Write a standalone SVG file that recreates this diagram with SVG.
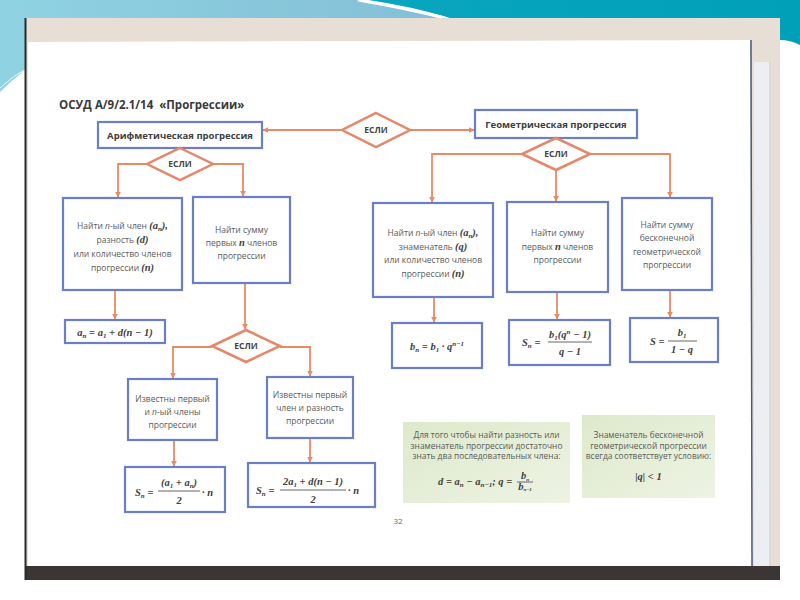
<svg xmlns="http://www.w3.org/2000/svg" width="800" height="600" viewBox="0 0 800 600">
<defs>
<linearGradient id="bgL" x1="0" y1="0" x2="1" y2="0">
<stop offset="0" stop-color="#8fd3e3"/>
<stop offset="1" stop-color="#84bfd6"/>
</linearGradient>
<linearGradient id="bgR" x1="0" y1="0" x2="1" y2="0">
<stop offset="0" stop-color="#0aa6bf"/>
<stop offset="1" stop-color="#00a0b8"/>
</linearGradient>
<linearGradient id="green" x1="0" y1="0" x2="1" y2="1">
<stop offset="0" stop-color="#dde9cb"/>
<stop offset="1" stop-color="#eef3e4"/>
</linearGradient>
<marker id="ah" viewBox="0 0 10 10" refX="9" refY="5" markerWidth="6" markerHeight="6" markerUnits="userSpaceOnUse" orient="auto">
<path d="M0,0 L10,5 L0,10 Z" fill="#ea8a62"/>
</marker>
<style>
.box{fill:#fff;stroke:#6c7ec4;stroke-width:2.2}
.gbox{fill:url(#green);stroke:none}
.dia{fill:#fff;stroke:#e5876a;stroke-width:2.5}
.con{stroke:#ea8a62;stroke-width:1.8;fill:none;marker-end:url(#ah)}
.t{font-family:"Open Sans","Noto Sans",sans-serif;font-size:8.5px;fill:#5a5a5a;text-anchor:middle}
.g{font-family:"Open Sans","Noto Sans",sans-serif;font-size:8.4px;fill:#5a5a5a;text-anchor:middle}
.h{font-family:"Open Sans","Noto Sans",sans-serif;font-size:9.5px;font-weight:bold;fill:#404040;text-anchor:middle}
.e{font-family:"Open Sans","Noto Sans",sans-serif;font-size:8.5px;font-weight:bold;fill:#444;text-anchor:middle}
.m{font-family:"Liberation Serif",serif;font-style:italic;font-weight:bold;font-size:10.5px;fill:#404040}
.mc{text-anchor:middle}
.sb{font-size:7px}
.bar{stroke:#404040;stroke-width:0.8}
</style>
</defs>

<!-- slide background -->
<rect x="0" y="0" width="800" height="600" fill="#ffffff"/>
<path d="M0,0 H360 Q400,8 440,18 H25 V70 Q12,80 0,92 Z" fill="url(#bgL)"/>
<path d="M368,0 H800 V45 Q790,40 780,40 V18 H450 Q410,6 368,0 Z" fill="url(#bgR)"/>
<path d="M358,0 Q405,8 445,18" fill="none" stroke="#ffffff" stroke-width="3"/>
<path d="M0,88 Q12,76 28,68" fill="none" stroke="#e8f8fb" stroke-width="1"/>

<!-- photo frame and page -->
<rect x="25" y="18" width="755" height="562" fill="#e7dfd5"/>
<polygon points="28,42 750,40 752,567 28,568" fill="#ffffff"/>
<rect x="754" y="62" width="16" height="505" fill="#eceef2"/>
<line x1="751" y1="40" x2="752" y2="567" stroke="#4c5a78" stroke-width="1.5"/>
<line x1="770" y1="62" x2="770" y2="567" stroke="#c9ccd4" stroke-width="1"/>
<rect x="25" y="566" width="755" height="14" fill="#3b3633"/>
<line x1="25.5" y1="18" x2="25.5" y2="580" stroke="#2a2a2a" stroke-width="2"/>

<text x="59" y="109" font-family="'Open Sans','Noto Sans',sans-serif" font-size="11.5" font-weight="bold" fill="#3a3a3a">ОСУД А/9/2.1/14 <tspan dx="3">«Прогрессии»</tspan></text>

<!-- connectors -->
<g id="connectors">
<path class="con" d="M342,130 H263"/>
<path class="con" d="M410,130 H474"/>
<path class="con" d="M147,164 H118 V197"/>
<path class="con" d="M213,164 H243 V196"/>
<path class="con" d="M522,154 H432 V202"/>
<path class="con" d="M556,170 V201"/>
<path class="con" d="M590,154 H670 V197"/>
<path class="con" d="M115,290 V319"/>
<path class="con" d="M245,283 V329"/>
<path class="con" d="M212,347 H173 V378"/>
<path class="con" d="M280,347 H310 V376"/>
<path class="con" d="M174,440 V466"/>
<path class="con" d="M310,438 V462"/>
<path class="con" d="M434,297 V322"/>
<path class="con" d="M557,292 V319"/>
<path class="con" d="M670,290 V317"/>
</g>

<!-- top decision -->
<g id="if-top">
<polygon class="dia" points="376,113 410,130 376,147 342,130"/>
<text class="e" x="376" y="133">ЕСЛИ</text>
</g>

<g id="arith">
<rect class="box" x="98" y="122" width="164" height="26"/>
<text class="h" x="180" y="138.5">Арифметическая прогрессия</text>
</g>

<g id="geom">
<rect class="box" x="475" y="110" width="162" height="28"/>
<text class="h" x="556" y="127.5">Геометрическая прогрессия</text>
</g>

<g id="if-arith">
<polygon class="dia" points="180,148 213,164 180,180 147,164"/>
<text class="e" x="180" y="167">ЕСЛИ</text>
</g>

<g id="if-geom">
<polygon class="dia" points="556,138 590,154 556,170 522,154"/>
<text class="e" x="556" y="157">ЕСЛИ</text>
</g>

<!-- arithmetic branch -->
<g id="a-find-n">
<rect class="box" x="63" y="198" width="119" height="92"/>
<text class="t" x="122.5" y="229">Найти <tspan font-style="italic">n</tspan>-ый член <tspan class="m">(a<tspan class="sb" dy="2">n</tspan><tspan dy="-2">),</tspan></tspan></text>
<text class="t" x="122.5" y="243">разность <tspan class="m">(d)</tspan></text>
<text class="t" x="122.5" y="257">или количество членов</text>
<text class="t" x="122.5" y="271">прогрессии <tspan class="m">(n)</tspan></text>
</g>

<g id="a-find-sum">
<rect class="box" x="193" y="197" width="97" height="86"/>
<text class="t" x="241.5" y="233">Найти сумму</text>
<text class="t" x="241.5" y="246">первых <tspan class="m">n</tspan> членов</text>
<text class="t" x="241.5" y="259">прогрессии</text>
</g>

<g id="a-formula-n">
<rect class="box" x="65" y="320" width="100" height="23"/>
<text class="m mc" x="115" y="336">a<tspan class="sb" dy="2">n</tspan><tspan dy="-2"> = a</tspan><tspan class="sb" dy="2">1</tspan><tspan dy="-2"> + d(n − 1)</tspan></text>
</g>

<g id="if-sum">
<polygon class="dia" points="246,330 280,346 246,362 212,346"/>
<text class="e" x="246" y="349">ЕСЛИ</text>
</g>

<g id="a-known-first-nth">
<rect class="box" x="128" y="379" width="89" height="61"/>
<text class="t" x="172.5" y="402">Известны первый</text>
<text class="t" x="172.5" y="415">и <tspan font-style="italic">n</tspan>-ый члены</text>
<text class="t" x="172.5" y="428">прогрессии</text>
</g>

<g id="a-known-first-d">
<rect class="box" x="267" y="377" width="86" height="61"/>
<text class="t" x="310" y="398">Известны первый</text>
<text class="t" x="310" y="411">член и разность</text>
<text class="t" x="310" y="424">прогрессии</text>
</g>

<g id="a-sum-1">
<rect class="box" x="125" y="467" width="100" height="45"/>
<text class="m" x="135" y="496">S<tspan class="sb" dy="2">n</tspan><tspan dy="-2"> =</tspan></text>
<text class="m mc" x="179" y="486">(a<tspan class="sb" dy="2">1</tspan><tspan dy="-2"> + a</tspan><tspan class="sb" dy="2">n</tspan><tspan dy="-2">)</tspan></text>
<line class="bar" x1="158" y1="491" x2="200" y2="491"/>
<text class="m mc" x="179" y="504">2</text>
<text class="m" x="202" y="496">· n</text>
</g>

<g id="a-sum-2">
<rect class="box" x="248" y="463" width="127" height="44"/>
<text class="m" x="256" y="494">S<tspan class="sb" dy="2">n</tspan><tspan dy="-2"> =</tspan></text>
<text class="m mc" x="313" y="485">2a<tspan class="sb" dy="2">1</tspan><tspan dy="-2"> + d(n − 1)</tspan></text>
<line class="bar" x1="280" y1="490" x2="346" y2="490"/>
<text class="m mc" x="313" y="503">2</text>
<text class="m" x="348" y="494">· n</text>
</g>

<!-- geometric branch -->
<g id="g-find-n">
<rect class="box" x="373" y="203" width="120" height="94"/>
<text class="t" x="433" y="236">Найти <tspan font-style="italic">n</tspan>-ый член <tspan class="m">(a<tspan class="sb" dy="2">n</tspan><tspan dy="-2">),</tspan></tspan></text>
<text class="t" x="433" y="250">знаменатель <tspan class="m">(q)</tspan></text>
<text class="t" x="433" y="263">или количество членов</text>
<text class="t" x="433" y="277">прогрессии <tspan class="m">(n)</tspan></text>
</g>

<g id="g-find-sum">
<rect class="box" x="507" y="202" width="101" height="90"/>
<text class="t" x="557.5" y="236">Найти сумму</text>
<text class="t" x="557.5" y="250">первых <tspan class="m">n</tspan> членов</text>
<text class="t" x="557.5" y="263">прогрессии</text>
</g>

<g id="g-find-inf">
<rect class="box" x="622" y="198" width="90" height="92"/>
<text class="t" x="667" y="228">Найти сумму</text>
<text class="t" x="667" y="241">бесконечной</text>
<text class="t" x="667" y="255">геометрической</text>
<text class="t" x="667" y="268">прогрессии</text>
</g>

<g id="g-formula-n">
<rect class="box" x="392" y="323" width="90" height="45"/>
<text class="m mc" x="437" y="350">b<tspan class="sb" dy="2">n</tspan><tspan dy="-2"> = b</tspan><tspan class="sb" dy="2">1</tspan><tspan dy="-2"> · q</tspan><tspan class="sb" dy="-4">n−1</tspan></text>
</g>

<g id="g-formula-sum">
<rect class="box" x="509" y="320" width="101" height="45"/>
<text class="m" x="522" y="346">S<tspan class="sb" dy="2">n</tspan><tspan dy="-2"> =</tspan></text>
<text class="m mc" x="570" y="338">b<tspan class="sb" dy="2">1</tspan><tspan dy="-2">(q</tspan><tspan class="sb" dy="-4">n</tspan><tspan dy="4"> − 1)</tspan></text>
<line class="bar" x1="548" y1="342" x2="592" y2="342"/>
<text class="m mc" x="570" y="355">q − 1</text>
</g>

<g id="g-formula-inf">
<rect class="box" x="630" y="318" width="88" height="44"/>
<text class="m" x="650" y="345">S =</text>
<text class="m mc" x="682" y="336">b<tspan class="sb" dy="2">1</tspan></text>
<line class="bar" x1="668" y1="341" x2="697" y2="341"/>
<text class="m mc" x="682" y="353">1 − q</text>
</g>

<!-- notes -->
<g id="note-1">
<rect class="gbox" x="403" y="422" width="167" height="81"/>
<text class="g" x="486.5" y="438">Для того чтобы найти разность или</text>
<text class="g" x="486.5" y="448.5">знаменатель прогрессии достаточно</text>
<text class="g" x="486.5" y="459">знать два последовательных члена:</text>
<text class="m" x="438" y="485">d = a<tspan class="sb" dy="2">n</tspan><tspan dy="-2"> − a</tspan><tspan class="sb" dy="2">n−1</tspan><tspan dy="-2">;  q =</tspan></text>
<text class="m mc" x="525" y="479" font-size="7">b<tspan font-size="5" dy="1.5">n</tspan></text>
<line class="bar" x1="517" y1="482" x2="533" y2="482"/>
<text class="m mc" x="525" y="489.5" font-size="7">b<tspan font-size="5" dy="1.5">n−1</tspan></text>
</g>

<g id="note-2">
<rect class="gbox" x="582" y="415" width="133" height="83"/>
<text class="g" x="648.5" y="438">Знаменатель бесконечной</text>
<text class="g" x="648.5" y="448.5">геометрической прогрессии</text>
<text class="g" x="648.5" y="459">всегда соответствует условию:</text>
<text class="m mc" x="648.5" y="480">|q| &lt; 1</text>
</g>

<text x="398" y="524" font-family="'Open Sans','Noto Sans',sans-serif" font-size="8" fill="#666" text-anchor="middle">32</text>
</svg>
